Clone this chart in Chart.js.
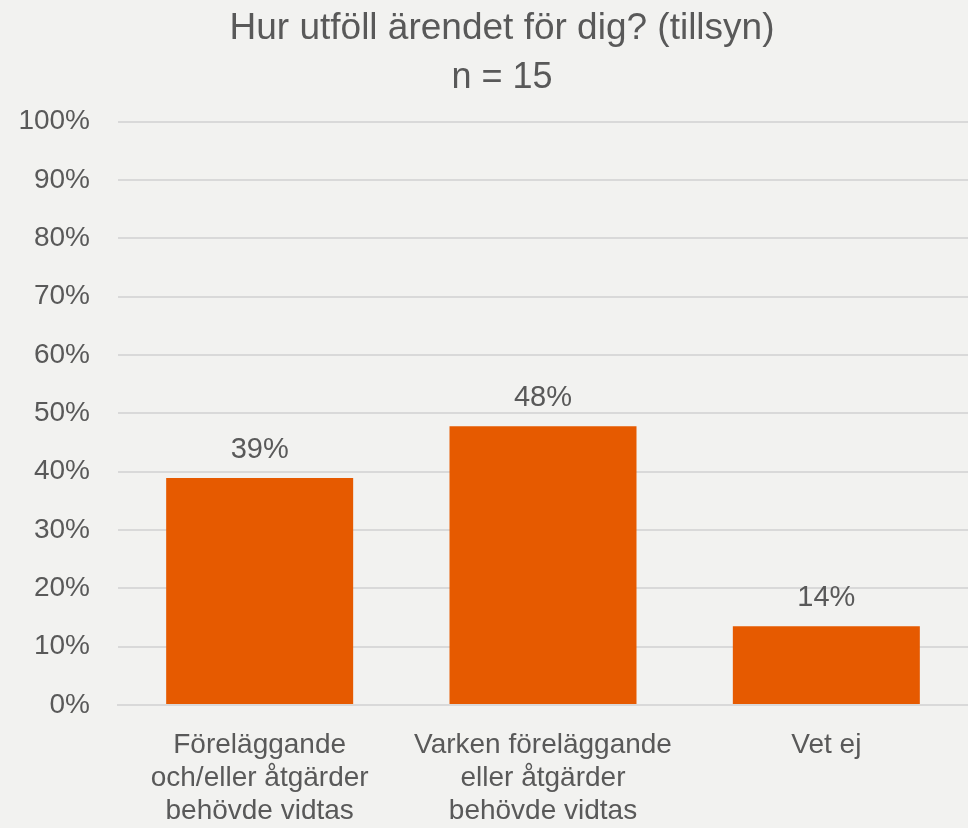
<!DOCTYPE html>
<html>
<head>
<meta charset="utf-8">
<script src="https://cdn.jsdelivr.net/npm/chart.js@4"></script>
<style>
  html, body { margin: 0; padding: 0; background: #f2f2f0; }
  #wrap { width: 968px; height: 828px; }
</style>
</head>
<body>
<div id="wrap"><canvas id="c" width="968" height="828"></canvas></div>
<script>
const titleText = "Hur utföll ärendet för dig? (tillsyn)";
const subtitleText = "n = 15";
const categories = [
  ["Föreläggande", "och/eller åtgärder", "behövde vidtas"],
  ["Varken föreläggande", "eller åtgärder", "behövde vidtas"],
  ["Vet ej"]
];
const values = [38.9, 47.8, 13.5];
const valueLabels = ["39%", "48%", "14%"];
const yTicks = [0, 10, 20, 30, 40, 50, 60, 70, 80, 90, 100];

const FONT = "'Liberation Sans', Arial, sans-serif";
const TEXT = "#595959";

const dataLabels = {
  id: "dataLabels",
  afterDatasetsDraw(chart) {
    const ctx = chart.ctx;
    const meta = chart.getDatasetMeta(0);
    ctx.save();
    ctx.font = "29px " + FONT;
    ctx.fillStyle = TEXT;
    ctx.textAlign = "center";
    ctx.textBaseline = "alphabetic";
    meta.data.forEach((bar, i) => {
      ctx.fillText(valueLabels[i], bar.x, bar.y - 20);
    });
    ctx.restore();
  }
};

// shift the title/subtitle boxes slightly right so they centre like the original
const titleShift = {
  id: "titleShift",
  afterLayout(chart) {
    chart.boxes.forEach(b => {
      if (b.options && typeof b.options.text === "string" && !b.options.ticks) {
        b.left += 9;
        b.right += 9;
      }
    });
  }
};

new Chart(document.getElementById("c"), {
  type: "bar",
  data: {
    labels: categories,
    datasets: [{
      data: values,
      backgroundColor: "#e65a00",
      borderWidth: 0,
      categoryPercentage: 1,
      barPercentage: 0.66
    }]
  },
  options: {
    responsive: false,
    animation: false,
    devicePixelRatio: 1,
    layout: { padding: { left: 18, right: 0, top: 0, bottom: 0 } },
    plugins: {
      legend: { display: false },
      tooltip: { enabled: false },
      title: {
        display: true,
        text: titleText,
        color: TEXT,
        font: { family: FONT, size: 37, weight: "normal" },
        padding: { top: 7, bottom: 5 }
      },
      subtitle: {
        display: true,
        text: subtitleText,
        color: TEXT,
        font: { family: FONT, size: 36, weight: "normal" },
        padding: { top: 0, bottom: 22 }
      }
    },
    scales: {
      y: {
        min: 0,
        max: 100,
        afterBuildTicks(axis) { axis.ticks = yTicks.map(v => ({ value: v })); },
        afterFit(axis) { axis.width = 100; },
        ticks: {
          color: TEXT,
          font: { family: FONT, size: 28 },
          padding: 28,
          callback: v => v + "%"
        },
        grid: { color: "#d9d9d9", lineWidth: 2, tickLength: 0, drawTicks: false },
        border: { display: false }
      },
      x: {
        afterFit(axis) { axis.height = 123; },
        ticks: {
          color: TEXT,
          font: { family: FONT, size: 28, lineHeight: 1.18 },
          padding: 16,
          maxRotation: 0,
          autoSkip: false
        },
        grid: { display: false },
        border: { display: true, color: "#d9d9d9", width: 2 }
      }
    }
  },
  plugins: [dataLabels, titleShift]
});
</script>
</body>
</html>
